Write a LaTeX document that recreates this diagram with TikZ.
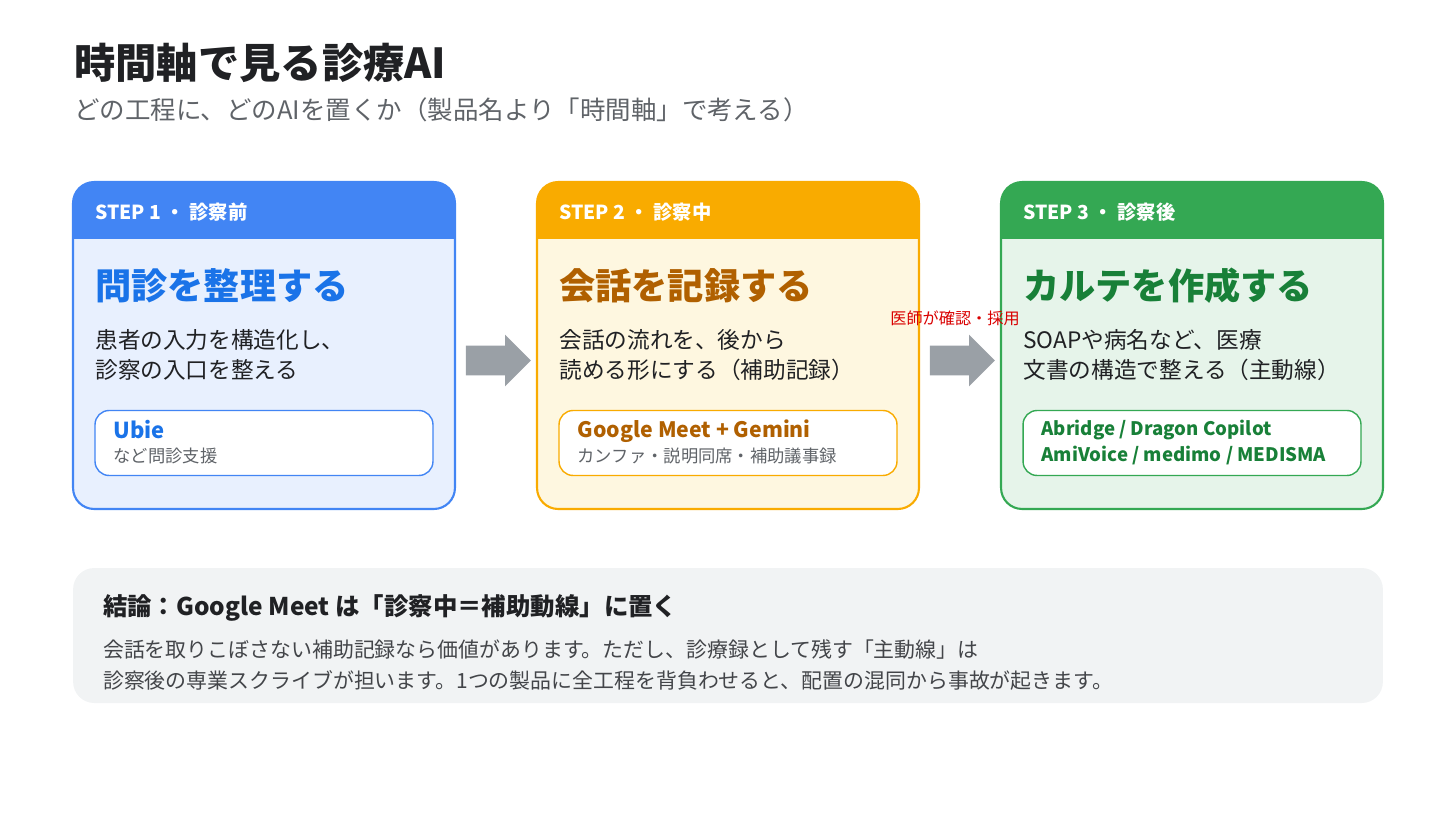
\documentclass[tikz,border=0pt]{standalone}
\usepackage{fontspec}
\setmainfont{Noto Sans CJK JP}
\usetikzlibrary{shapes.arrows, positioning, calc}
\definecolor{stepblue}{HTML}{4285F4}
\definecolor{stepbluebg}{HTML}{E8F0FE}
\definecolor{stepbluetx}{HTML}{1A73E8}
\definecolor{steporange}{HTML}{F9AB00}
\definecolor{steporangebg}{HTML}{FEF7E0}
\definecolor{steporangetx}{HTML}{B06000}
\definecolor{stepgreen}{HTML}{34A853}
\definecolor{stepgreenbg}{HTML}{E6F4EA}
\definecolor{stepgreentx}{HTML}{188038}
\definecolor{textdark}{HTML}{202124}
\definecolor{textgray}{HTML}{5F6368}
\definecolor{arrowgray}{HTML}{9AA0A6}
\definecolor{notebg}{HTML}{F1F3F4}

\begin{document}
\begin{tikzpicture}[x=0.02cm, y=-0.02cm,
    card/.style={draw=#1, line width=1.2pt, rounded corners=12pt, minimum width=7.64cm, minimum height=6.54cm, inner sep=0pt},
    head/.style={font=\fontsize{11}{13}\selectfont\bfseries, text=white, anchor=west, inner sep=0pt},
    ctitle/.style={font=\fontsize{20.6}{24}\selectfont\bfseries, anchor=west, inner sep=0pt},
    body/.style={font=\fontsize{12.9}{17}\selectfont, text=textdark, anchor=north west, align=left, inner sep=0pt},
    tool/.style={draw=#1, line width=0.8pt, fill=white, rounded corners=8pt, minimum width=6.76cm, minimum height=1.3cm},
    steparrow/.style={single arrow, fill=arrowgray, draw=none, minimum height=1.3cm, single arrow head extend=0.22cm, minimum width=1.02cm, inner xsep=0pt, inner ysep=0.29cm, single arrow tip angle=90}
]
\useasboundingbox (0,0) rectangle (1456,819);

% Title
\node[anchor=west, inner sep=0pt, font=\fontsize{23.5}{26}\selectfont\bfseries, text=textdark] (title) at (74,63) {時間軸で見る診療AI};
\node[anchor=west, inner sep=0pt, font=\fontsize{14.5}{17}\selectfont, text=textgray] (subtitle) at (74,110) {どの工程に、どのAIを置くか（製品名より「時間軸」で考える）};

% Cards
\foreach \i/\x/\c/\hd/\tt in {1/264/stepblue/{STEP 1 ・ 診察前}/問診を整理する,
                               2/728/steporange/{STEP 2 ・ 診察中}/会話を記録する,
                               3/1192/stepgreen/{STEP 3 ・ 診察後}/カルテを作成する}{
  \node[card=\c, fill=\c bg] (card\i) at (\x,345.5) {};
  \fill[\c, rounded corners=12pt] ($(card\i.north west)+(0.6pt,-0.6pt)$) -- ($(card\i.north east)+(-0.6pt,-0.6pt)$)
      [sharp corners] -- ($(card\i.north east)+(-0.6pt,58)$) -- ($(card\i.north west)+(0.6pt,58)$) [rounded corners=12pt] -- cycle;
  \node[head] (head\i) at ($(card\i.north west)+(23,31)$) {\hd};
  \node[ctitle, text=\c tx] (ctitle\i) at ($(card\i.north west)+(23,105)$) {\tt};
  \node[tool=\c] (tool\i) at ($(card\i.north)+(0,262)$) {};
}

% Body text
\node[body] (body1) at ($(card1.north west)+(23,148)$) {患者の入力を構造化し、\\診察の入口を整える};
\node[body] (body2) at ($(card2.north west)+(23,148)$) {会話の流れを、後から\\読める形にする（補助記録）};
\node[body] (body3) at ($(card3.north west)+(23,148)$) {SOAPや病名など、医療\\文書の構造で整える（主動線）};

% Tools
\node[anchor=north west, align=left, inner sep=0pt] (tooltx1) at ($(tool1.north west)+(19,10)$)
  {{\fontsize{12.5}{15}\selectfont\bfseries\color{stepbluetx}Ubie}\\[2pt]{\fontsize{9.85}{12}\selectfont\color{textgray}など問診支援}};
\node[anchor=north west, align=left, inner sep=0pt] (tooltx2) at ($(tool2.north west)+(19,10)$)
  {{\fontsize{12.1}{15}\selectfont\bfseries\color{steporangetx}Google Meet + Gemini}\\[2pt]{\fontsize{9.85}{12}\selectfont\color{textgray}カンファ・説明同席・補助議事録}};
\node[anchor=north west, align=left, inner sep=0pt, font=\fontsize{10.6}{14.5}\selectfont\bfseries, text=stepgreentx] (tooltx3) at ($(tool3.north west)+(19,10)$)
  {Abridge / Dragon Copilot\\AmiVoice / medimo / MEDISMA};

% Arrows between steps
\node[steparrow] (arrow12) at ($(card1.east)!0.5!(card2.west)+(-5,15)$) {};
\node[steparrow] (arrow23) at ($(card2.east)!0.5!(card3.west)+(-5,15)$) {};
\node[font=\fontsize{9.2}{11}\selectfont, text=red!85!black] (approve) at ($(arrow23.center)+(0,-42)$) {医師が確認・採用};

% Conclusion
\node[fill=notebg, rounded corners=12pt, minimum width=26.2cm, minimum height=2.7cm] (note) at (728,635.5) {};
\node[anchor=west, inner sep=0pt, font=\fontsize{13.9}{16}\selectfont\bfseries, text=textdark] (notetitle) at ($(note.north west)+(30,40)$) {結論：Google Meet は「診察中＝補助動線」に置く};
\node[anchor=north west, inner sep=0pt, align=left, font=\fontsize{11.9}{17.5}\selectfont, text=textgray!70!black] (notebody) at ($(note.north west)+(30,72)$)
  {会話を取りこぼさない補助記録なら価値があります。ただし、診療録として残す「主動線」は\\診察後の専業スクライブが担います。1つの製品に全工程を背負わせると、配置の混同から事故が起きます。};
\end{tikzpicture}
\end{document}
